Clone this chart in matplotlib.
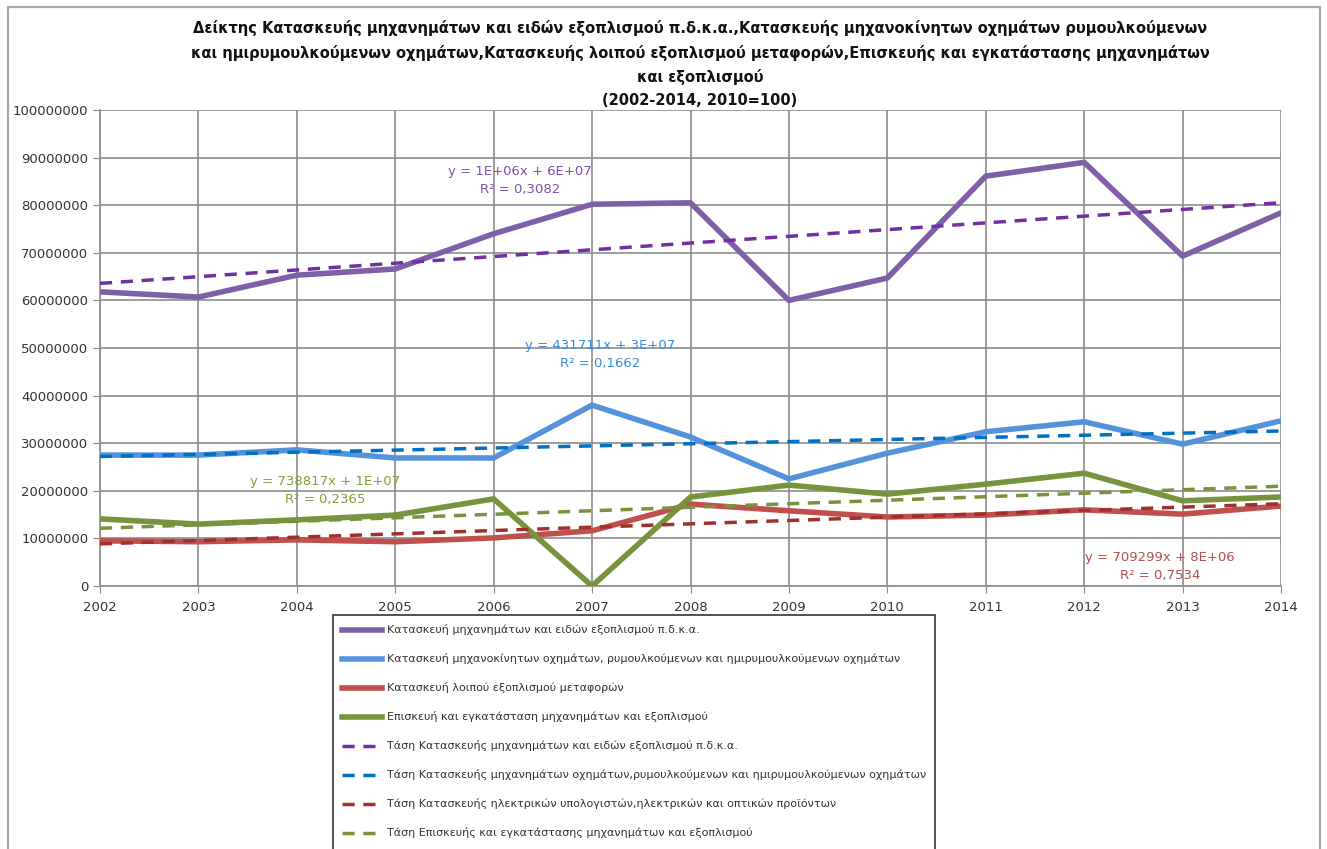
import numpy as np
import matplotlib.pyplot as plt
from matplotlib.patches import Rectangle

# index values
years = np.arange(2002, 2015)
machinery = [61.8, 60.7, 65.3, 66.6, 74.0, 80.2, 80.5, 60.0, 64.7, 86.1, 89.0, 69.3, 78.4]
vehicles = [27.5, 27.5, 28.6, 26.9, 26.9, 38.0, 31.3, 22.5, 27.9, 32.4, 34.5, 29.8, 34.7]
transport = [9.5, 9.3, 9.7, 9.3, 10.1, 11.6, 17.2, 15.8, 14.5, 14.9, 16.0, 15.1, 16.8]
repair = [14.1, 13.0, 13.9, 14.9, 18.3, 0.0, 18.7, 21.2, 19.3, 21.4, 23.7, 17.9, 18.7]

series_labels = [
    "Κατασκευή μηχανημάτων και ειδών εξοπλισμού π.δ.κ.α.",
    "Κατασκευή μηχανοκίνητων οχημάτων, ρυμουλκούμενων και ημιρυμουλκούμενων οχημάτων",
    "Κατασκευή λοιπού εξοπλισμού μεταφορών",
    "Επισκευή και εγκατάσταση μηχανημάτων και εξοπλισμού",
]
trend_labels = [
    "Τάση Κατασκευής μηχανημάτων και ειδών εξοπλισμού π.δ.κ.α.",
    "Τάση Κατασκευής μηχανημάτων οχημάτων,ρυμουλκούμενων και ημιρυμουλκούμενων οχημάτων",
    "Τάση Κατασκευής ηλεκτρικών υπολογιστών,ηλεκτρικών και οπτικών προϊόντων",
    "Τάση Επισκευής και εγκατάστασης μηχανημάτων και εξοπλισμού",
]
equations = [
    ("y = 1E+06x + 6E+07", "R² = 0,3082"),
    ("y = 431711x + 3E+07", "R² = 0,1662"),
    ("y = 709299x + 8E+06", "R² = 0,7534"),
    ("y = 738817x + 1E+07", "R² = 0,2365"),
]

line_colors = ["#7F60A8", "#5592DC", "#C0504D", "#77933C"]
trend_colors = ["#7030A0", "#0070C0", "#A0302D", "#77933C"]
eq_colors = ["#7F50B0", "#3A8AD8", "#B05050", "#80A040"]
eq_pos = [(520, 180), (600, 355), (1160, 567), (325, 491)]

title = ("Δείκτης Κατασκευής μηχανημάτων και ειδών εξοπλισμού π.δ.κ.α.,Κατασκευής μηχανοκίνητων οχημάτων ρυμουλκούμενων\n"
         "και ημιρυμουλκούμενων οχημάτων,Κατασκευής λοιπού εξοπλισμού μεταφορών,Επισκευής και εγκατάστασης μηχανημάτων\n"
         "και εξοπλισμού\n(2002-2014, 2010=100)")

plt.rcParams['font.family'] = ['DejaVu Sans']
W, H = 1327, 849
fig = plt.figure(figsize=(W / 100, H / 100), dpi=100)
fig.patches.append(Rectangle((8 / W, -0.01), 1312 / W, 1.01 - 7 / H, transform=fig.transFigure,
                             fill=False, edgecolor="#A8A8A8", lw=1.6))
# legend box, cut off by the lower edge as in the original
fig.patches.append(Rectangle((333 / W, -0.02), 602 / W, 0.02 + 1 - 615 / H, transform=fig.transFigure,
                             fill=False, edgecolor="#333333", lw=1.2, zorder=5))

ax = fig.add_axes([100 / W, 1 - 586 / H, 1181 / W, 476 / H])
data = [machinery, vehicles, transport, repair]
handles = []
for vals, c, lab in zip(data, line_colors, series_labels):
    y = np.array(vals) * 1e6
    h, = ax.plot(years, y, color=c, lw=4, label=lab, zorder=3)
    handles.append(h)
for vals, c, lab in zip(data, trend_colors, trend_labels):
    y = np.array(vals) * 1e6
    k, b = np.polyfit(years, y, 1)
    h, = ax.plot(years, k * years + b, color=c, lw=2.5, ls=(0, (3.5, 2.5)), label=lab, zorder=4)
    handles.append(h)

for (l1, l2), c, (px, py) in zip(equations, eq_colors, eq_pos):
    fig.text(px / W, 1 - py / H, l1 + "\n" + l2, color=c, fontsize=9.5, ha="center", va="center",
             linespacing=1.5)

ax.set_xlim(2002, 2014)
ax.set_ylim(0, 100000000)
ax.set_xticks(years)
ax.set_yticks(np.arange(0, 100000001, 10000000))
ax.set_yticklabels([str(v) for v in range(0, 100000001, 10000000)])
ax.grid(True, color="#8C8C8C", lw=1.2)
ax.set_axisbelow(True)
for s in ["top", "right"]:
    ax.spines[s].set_visible(False)
for s in ["left", "bottom"]:
    ax.spines[s].set_color("#8C8C8C")
    ax.spines[s].set_linewidth(1.2)
ax.tick_params(axis="both", colors="#8C8C8C", labelcolor="#333333", labelsize=9.5, length=5)
ax.tick_params(axis="x", pad=6)

fig.text(700 / W, 1 - 64 / H, title, ha="center", va="center", fontsize=10.5,
         fontweight="bold", linespacing=1.65, color="#111111")

leg = fig.legend(handles=handles, loc="upper left", mode="expand",
                 bbox_to_anchor=(333 / W, 0, 602 / W, 1 - 615 / H),
                 fontsize=8, frameon=False,
                 labelspacing=1.62, handlelength=3.6, handletextpad=0.4, borderpad=0.85,
                 borderaxespad=0)
for t in leg.get_texts():
    t.set_color("#333333")

fig.savefig("out.png", dpi=100)
